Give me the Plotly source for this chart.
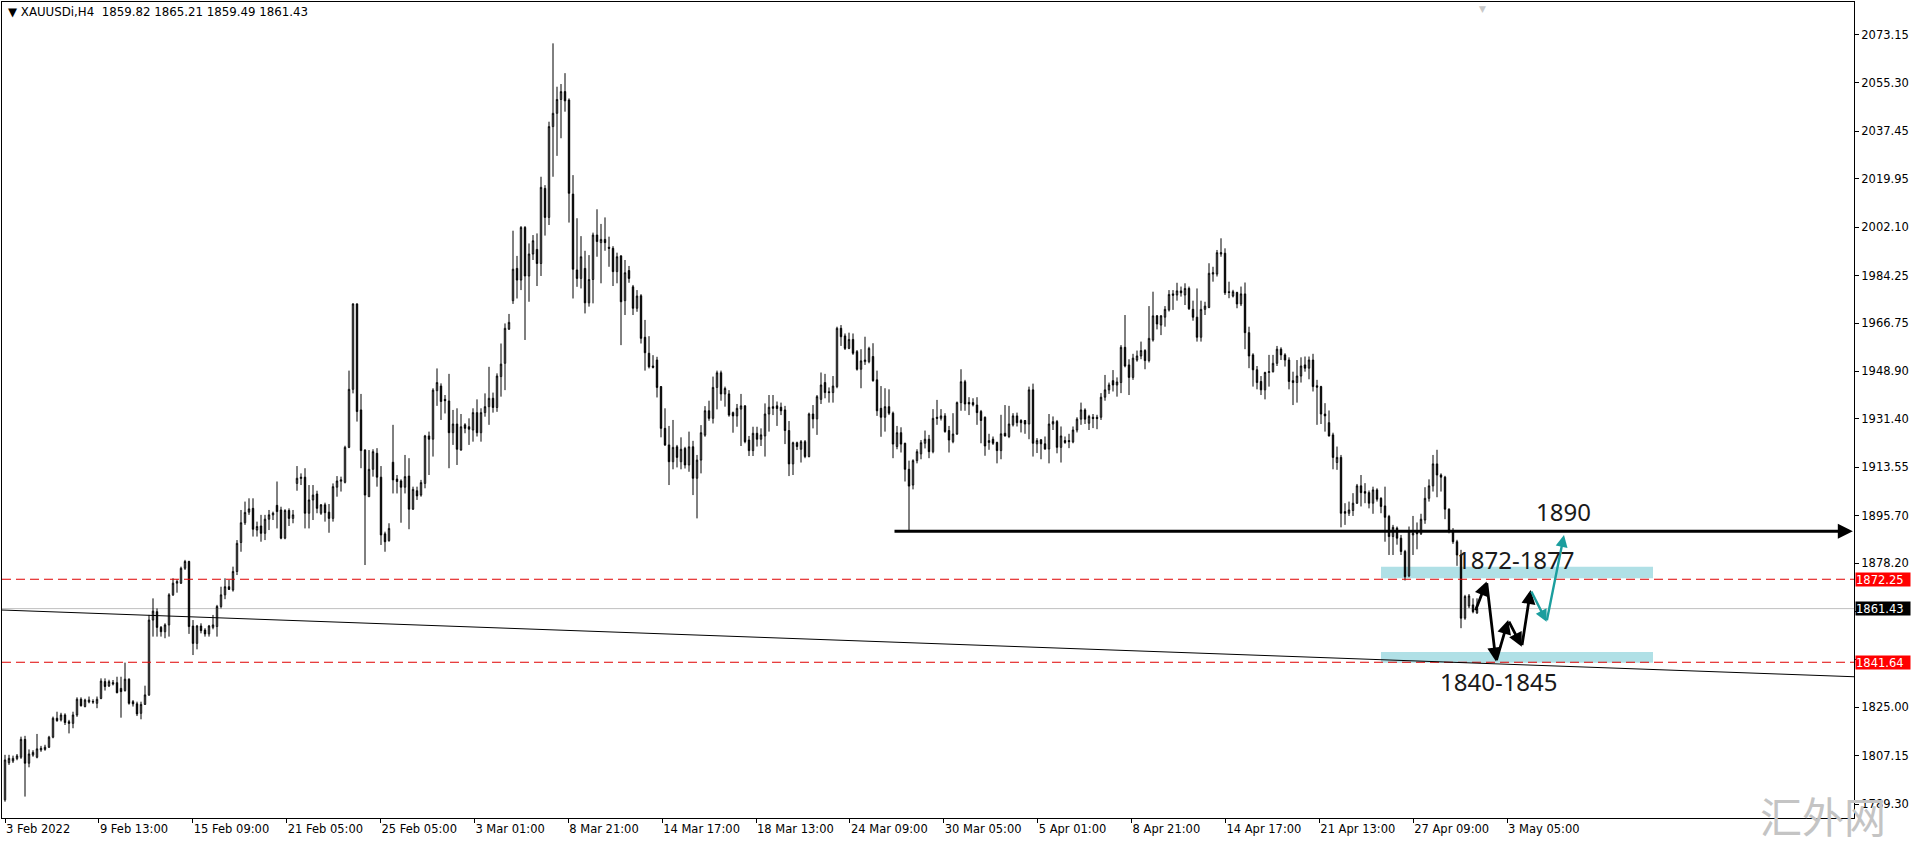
import plotly.graph_objects as go

# ---------------- data (XAUUSDi, H4) ----------------
open_ = [
    1790.9, 1804.6, 1805.2, 1806.1, 1806.6, 1813.2, 1804.4, 1807.4, 1806.6, 1809.3,
    1809.5, 1810.3, 1814.0, 1821.0, 1820.4, 1822.2, 1819.7, 1819.1, 1822.2, 1828.0,
    1825.3, 1827.0, 1827.2, 1826.5, 1828.3, 1834.5, 1832.9, 1833.6, 1834.1, 1832.0,
    1831.2, 1835.4, 1827.1, 1826.3, 1822.8, 1826.1, 1829.6, 1857.2, 1860.3, 1854.5,
    1852.9, 1855.4, 1866.5, 1870.8, 1870.8, 1876.3, 1878.8, 1855.0, 1848.6, 1855.0,
    1853.5, 1852.1, 1854.5, 1854.8, 1862.2, 1866.5, 1869.5, 1868.3, 1875.1, 1885.8,
    1893.1, 1897.0, 1898.4, 1890.4, 1891.9, 1889.2, 1894.4, 1896.0, 1899.5, 1897.8,
    1887.4, 1897.6, 1894.7, 1907.6, 1909.4, 1909.9, 1896.6, 1901.5, 1903.7, 1896.6,
    1899.7, 1897.0, 1894.7, 1906.2, 1908.4, 1908.0, 1920.9, 1942.3, 1973.8, 1934.7,
    1919.9, 1902.7, 1912.8, 1918.7, 1909.9, 1889.0, 1886.5, 1915.4, 1909.2, 1908.5,
    1906.2, 1910.3, 1898.1, 1904.9, 1903.3, 1907.6, 1925.1, 1923.9, 1941.8, 1943.5,
    1938.6, 1938.0, 1926.3, 1929.5, 1919.9, 1929.2, 1928.5, 1927.3, 1933.7, 1926.3,
    1933.7, 1935.9, 1939.0, 1935.6, 1947.0, 1951.9, 1964.5, 1975.0, 1986.9, 1982.6,
    2002.0, 1984.1, 1992.2, 1993.9, 1988.7, 2016.4, 2005.7, 2039.2, 2044.1, 2049.2,
    2052.1, 2049.0, 2014.3, 1986.3, 1983.2, 1986.9, 1974.2, 1982.8, 1999.2, 1996.4,
    1997.6, 1994.7, 1994.3, 1985.7, 1991.5, 1975.0, 1986.1, 1980.1, 1972.2, 1976.8,
    1961.5, 1955.6, 1950.9, 1953.1, 1943.3, 1927.9, 1921.8, 1915.6, 1921.1, 1915.6,
    1920.5, 1914.4, 1921.1, 1909.5, 1916.2, 1925.4, 1934.4, 1931.6, 1943.0, 1948.4,
    1940.6, 1940.6, 1933.7, 1932.5, 1935.0, 1936.2, 1923.6, 1919.7, 1926.1, 1923.9,
    1925.1, 1933.2, 1935.9, 1936.2, 1935.7, 1934.7, 1927.1, 1914.8, 1922.6, 1920.2,
    1923.0, 1917.5, 1933.2, 1931.4, 1938.6, 1944.8, 1941.4, 1941.1, 1943.3, 1964.8,
    1962.0, 1957.4, 1960.7, 1956.2, 1949.7, 1952.5, 1952.5, 1954.4, 1945.8, 1935.3,
    1932.0, 1935.9, 1933.5, 1921.2, 1926.3, 1922.4, 1912.8, 1907.0, 1916.0, 1918.5,
    1922.4, 1923.9, 1919.3, 1932.0, 1931.6, 1932.5, 1927.1, 1923.0, 1925.8, 1937.4,
    1945.1, 1937.5, 1937.4, 1936.5, 1934.1, 1932.0, 1922.7, 1923.9, 1922.7, 1919.7,
    1926.1, 1924.9, 1929.2, 1932.5, 1930.8, 1930.8, 1929.5, 1942.1, 1922.2, 1923.7,
    1922.2, 1920.3, 1929.5, 1930.4, 1920.9, 1923.4, 1923.4, 1922.9, 1927.3, 1931.3,
    1934.7, 1929.8, 1932.0, 1932.0, 1932.0, 1939.4, 1942.1, 1945.5, 1943.9, 1944.8,
    1957.8, 1951.3, 1946.7, 1953.1, 1954.6, 1956.6, 1952.9, 1960.5, 1969.4, 1966.0,
    1968.9, 1971.6, 1977.5, 1977.1, 1978.6, 1977.1, 1979.5, 1971.8, 1968.9, 1961.5,
    1971.8, 1972.5, 1984.8, 1984.8, 1992.2, 1992.5, 1978.3, 1976.7, 1978.0, 1973.8,
    1977.5, 1963.2, 1955.0, 1949.5, 1945.2, 1942.1, 1948.5, 1948.8, 1951.9, 1957.1,
    1955.0, 1953.1, 1945.5, 1944.8, 1947.2, 1951.3, 1950.1, 1953.1, 1943.6, 1943.3,
    1933.2, 1930.0, 1925.5, 1915.3, 1917.2, 1897.2, 1896.6, 1897.6, 1900.3, 1906.7,
    1904.6, 1904.2, 1900.3, 1905.2, 1902.1, 1899.3, 1895.4, 1888.0, 1891.1, 1887.4,
    1882.5, 1873.5, 1888.6, 1890.2, 1889.0, 1894.1, 1902.1, 1906.7, 1914.8, 1910.7,
    1909.9, 1898.1, 1890.2, 1886.1, 1881.2, 1857.9, 1862.4, 1862.8, 1859.82,
]
high = [
    1807.5, 1807.5, 1807.2, 1807.8, 1814.2, 1814.5, 1809.5, 1809.2, 1815.2, 1810.8,
    1811.2, 1814.5, 1821.6, 1823.4, 1823.0, 1822.8, 1820.4, 1823.4, 1828.7, 1828.7,
    1828.2, 1829.0, 1828.0, 1829.0, 1835.7, 1835.7, 1835.2, 1835.1, 1836.3, 1836.3,
    1841.5, 1835.7, 1827.7, 1827.1, 1827.1, 1833.0, 1859.1, 1865.2, 1861.5, 1855.0,
    1856.0, 1867.1, 1872.6, 1872.2, 1876.9, 1879.4, 1879.1, 1857.2, 1855.4, 1856.0,
    1854.2, 1855.4, 1859.1, 1862.8, 1869.5, 1872.6, 1872.0, 1876.9, 1886.7, 1897.8,
    1900.9, 1902.1, 1902.1, 1893.5, 1896.0, 1896.0, 1897.8, 1897.2, 1908.3, 1899.0,
    1898.1, 1898.4, 1897.8, 1914.0, 1911.3, 1913.2, 1907.0, 1907.0, 1904.9, 1900.0,
    1900.5, 1900.0, 1907.6, 1910.3, 1910.1, 1921.5, 1949.2, 1974.0, 1974.0, 1940.6,
    1920.2, 1919.9, 1920.2, 1920.6, 1914.0, 1889.8, 1892.9, 1929.2, 1910.7, 1909.1,
    1918.1, 1916.9, 1906.4, 1906.4, 1908.9, 1925.5, 1926.7, 1942.7, 1950.0, 1944.5,
    1940.2, 1948.0, 1934.7, 1935.3, 1933.2, 1929.8, 1931.6, 1935.3, 1938.6, 1935.3,
    1940.8, 1950.6, 1941.1, 1948.2, 1959.2, 1966.6, 1970.1, 2000.8, 1991.5, 2002.5,
    2002.5, 1996.1, 1999.2, 1999.8, 2020.7, 2017.6, 2041.0, 2069.9, 2053.9, 2054.9,
    2058.9, 2049.6, 2021.3, 2005.4, 1998.8, 1993.4, 1991.8, 2000.1, 2008.7, 2003.3,
    2005.7, 1998.6, 1995.1, 1992.7, 1991.8, 1990.0, 1987.8, 1980.8, 1978.9, 1977.4,
    1967.9, 1961.9, 1954.9, 1954.3, 1943.5, 1935.3, 1928.8, 1931.0, 1921.8, 1924.6,
    1921.1, 1926.7, 1923.3, 1918.1, 1929.1, 1936.1, 1938.1, 1947.0, 1949.2, 1949.2,
    1943.3, 1942.0, 1934.1, 1936.9, 1940.6, 1936.4, 1925.1, 1928.5, 1928.5, 1927.9,
    1937.1, 1940.2, 1940.2, 1937.8, 1937.4, 1936.2, 1930.6, 1923.0, 1923.0, 1923.6,
    1923.6, 1933.7, 1936.5, 1940.2, 1948.5, 1948.0, 1943.0, 1947.2, 1965.4, 1966.0,
    1962.9, 1963.2, 1962.9, 1956.8, 1957.1, 1961.7, 1958.0, 1959.3, 1949.2, 1943.5,
    1942.7, 1942.3, 1934.1, 1928.8, 1928.3, 1922.6, 1916.0, 1916.5, 1920.2, 1923.6,
    1927.1, 1925.5, 1935.0, 1938.4, 1935.0, 1933.5, 1928.8, 1933.5, 1937.8, 1949.7,
    1945.8, 1939.4, 1939.0, 1939.4, 1934.7, 1932.3, 1925.9, 1924.9, 1923.0, 1932.9,
    1936.5, 1936.2, 1933.5, 1933.7, 1931.3, 1931.0, 1943.3, 1944.4, 1924.3, 1923.9,
    1924.9, 1933.2, 1932.3, 1931.0, 1928.6, 1924.9, 1925.9, 1928.6, 1932.0, 1937.4,
    1935.3, 1932.9, 1933.2, 1932.9, 1940.9, 1947.6, 1944.8, 1949.4, 1946.7, 1958.6,
    1969.7, 1953.4, 1955.4, 1956.6, 1959.9, 1957.1, 1973.0, 1978.3, 1969.7, 1969.7,
    1973.0, 1978.9, 1978.9, 1981.6, 1980.2, 1981.4, 1980.2, 1975.0, 1979.5, 1975.0,
    1974.6, 1988.8, 1987.5, 1993.7, 1998.0, 1994.3, 1982.0, 1979.0, 1978.3, 1980.2,
    1981.7, 1965.4, 1955.6, 1950.9, 1947.2, 1948.8, 1955.0, 1955.0, 1958.3, 1957.8,
    1955.6, 1954.1, 1948.8, 1953.1, 1954.1, 1954.4, 1954.4, 1955.4, 1945.8, 1943.6,
    1937.2, 1934.5, 1926.3, 1921.2, 1918.1, 1900.3, 1900.9, 1904.0, 1907.4, 1910.7,
    1907.7, 1905.0, 1906.4, 1905.8, 1902.5, 1906.4, 1896.0, 1892.3, 1891.7, 1888.6,
    1883.1, 1891.7, 1895.6, 1893.2, 1896.4, 1906.2, 1909.1, 1918.1, 1920.0, 1911.3,
    1910.4, 1898.4, 1891.1, 1886.8, 1883.1, 1866.5, 1866.8, 1865.2, 1865.21,
]
low = [
    1790.2, 1803.8, 1804.5, 1805.5, 1806.0, 1792.1, 1802.9, 1806.8, 1806.2, 1808.6,
    1809.0, 1810.0, 1813.6, 1819.7, 1819.8, 1818.5, 1815.4, 1817.3, 1821.5, 1825.3,
    1825.0, 1826.5, 1826.3, 1824.7, 1828.0, 1831.2, 1832.5, 1833.1, 1830.2, 1821.2,
    1830.8, 1826.0, 1825.3, 1821.8, 1820.6, 1825.9, 1829.2, 1851.1, 1851.1, 1851.1,
    1850.5, 1851.1, 1866.1, 1867.3, 1870.5, 1875.7, 1852.1, 1844.3, 1846.4, 1852.3,
    1851.1, 1851.1, 1853.8, 1851.1, 1861.5, 1864.9, 1868.3, 1867.7, 1873.8, 1882.4,
    1892.3, 1896.0, 1888.0, 1888.0, 1886.1, 1886.7, 1890.4, 1894.1, 1891.0, 1887.0,
    1887.0, 1891.9, 1892.9, 1904.9, 1907.0, 1891.0, 1891.0, 1894.1, 1896.6, 1896.0,
    1893.5, 1889.4, 1893.5, 1902.7, 1904.6, 1907.6, 1920.6, 1940.8, 1930.4, 1913.2,
    1877.5, 1902.7, 1910.1, 1906.4, 1884.9, 1882.4, 1886.1, 1903.9, 1903.9, 1893.1,
    1903.9, 1890.7, 1897.8, 1901.5, 1902.7, 1905.8, 1910.7, 1917.5, 1936.2, 1931.0,
    1933.4, 1913.2, 1921.8, 1914.4, 1919.7, 1926.1, 1921.8, 1923.0, 1924.9, 1923.0,
    1932.2, 1929.2, 1933.7, 1934.0, 1939.6, 1942.0, 1964.2, 1973.8, 1975.8, 1978.9,
    1960.5, 1974.6, 1990.0, 1980.4, 1984.1, 1999.0, 2002.9, 2020.7, 2028.4, 2034.9,
    2044.7, 2003.8, 1975.8, 1980.1, 1979.5, 1970.3, 1972.8, 1974.0, 1991.2, 1981.4,
    1993.4, 1987.5, 1980.4, 1981.4, 1958.6, 1969.7, 1981.6, 1969.7, 1970.9, 1959.2,
    1949.2, 1950.0, 1950.0, 1939.3, 1924.6, 1921.4, 1907.0, 1912.8, 1913.5, 1912.8,
    1913.1, 1911.9, 1903.3, 1894.7, 1911.3, 1924.8, 1930.7, 1929.7, 1934.9, 1938.1,
    1935.9, 1932.2, 1926.3, 1928.5, 1921.4, 1922.4, 1917.7, 1917.7, 1921.2, 1921.4,
    1917.5, 1926.7, 1932.8, 1928.8, 1932.8, 1922.1, 1910.3, 1910.7, 1919.9, 1915.3,
    1916.9, 1917.2, 1927.9, 1925.5, 1936.9, 1939.0, 1937.4, 1937.4, 1942.7, 1958.3,
    1956.8, 1957.1, 1955.0, 1949.2, 1942.7, 1951.3, 1951.9, 1945.1, 1932.5, 1924.8,
    1926.7, 1932.8, 1916.9, 1920.2, 1919.0, 1908.3, 1890.4, 1905.4, 1915.0, 1916.5,
    1920.5, 1916.9, 1918.7, 1929.2, 1930.8, 1926.3, 1919.0, 1922.4, 1925.5, 1934.4,
    1934.4, 1932.8, 1936.0, 1929.2, 1922.4, 1917.8, 1920.0, 1921.8, 1915.0, 1916.5,
    1924.9, 1924.3, 1928.6, 1928.6, 1926.4, 1925.9, 1923.9, 1917.5, 1918.8, 1916.5,
    1920.0, 1915.0, 1927.3, 1918.7, 1915.3, 1922.2, 1920.6, 1922.4, 1926.4, 1929.2,
    1929.5, 1927.3, 1928.0, 1927.6, 1931.0, 1938.1, 1940.6, 1941.5, 1939.6, 1940.9,
    1950.4, 1940.2, 1945.8, 1952.5, 1953.4, 1949.7, 1952.2, 1959.9, 1964.4, 1962.3,
    1965.4, 1971.0, 1971.6, 1975.0, 1976.5, 1973.4, 1971.6, 1967.6, 1959.9, 1959.9,
    1969.7, 1972.2, 1982.0, 1983.9, 1991.2, 1977.1, 1975.9, 1976.2, 1972.2, 1973.0,
    1957.1, 1950.1, 1943.3, 1942.3, 1940.2, 1938.6, 1943.3, 1948.5, 1950.9, 1953.1,
    1950.7, 1942.3, 1936.5, 1937.4, 1944.8, 1948.8, 1946.0, 1941.5, 1929.2, 1929.5,
    1926.7, 1924.9, 1912.8, 1912.6, 1891.4, 1892.3, 1895.6, 1895.6, 1900.0, 1899.1,
    1900.3, 1898.4, 1896.4, 1900.9, 1896.6, 1886.1, 1881.2, 1881.2, 1885.0, 1881.2,
    1871.8, 1873.0, 1881.2, 1883.3, 1888.6, 1892.7, 1900.9, 1904.6, 1902.5, 1904.6,
    1894.4, 1889.2, 1885.3, 1877.2, 1854.2, 1857.3, 1861.6, 1859.7, 1859.49,
]
close = [
    1805.6, 1806.2, 1806.2, 1807.1, 1813.2, 1804.4, 1807.8, 1808.4, 1809.7, 1809.9,
    1810.3, 1814.0, 1821.0, 1820.1, 1822.2, 1819.4, 1819.1, 1822.2, 1828.0, 1825.6,
    1827.7, 1827.7, 1827.0, 1828.0, 1834.7, 1832.7, 1834.5, 1834.1, 1830.4, 1830.8,
    1835.4, 1826.5, 1826.3, 1822.6, 1826.1, 1829.6, 1857.2, 1860.5, 1854.5, 1852.9,
    1855.4, 1866.5, 1870.8, 1871.4, 1876.3, 1878.8, 1854.8, 1848.6, 1855.0, 1853.3,
    1852.1, 1855.0, 1855.4, 1862.2, 1866.5, 1869.5, 1868.5, 1875.1, 1885.5, 1893.1,
    1896.9, 1898.2, 1890.7, 1891.7, 1889.2, 1894.4, 1896.0, 1896.6, 1897.2, 1887.4,
    1897.6, 1894.7, 1896.0, 1909.5, 1909.9, 1896.6, 1901.5, 1903.3, 1898.4, 1899.7,
    1896.8, 1894.7, 1906.4, 1908.5, 1908.9, 1920.9, 1942.3, 1973.8, 1934.1, 1919.7,
    1903.3, 1912.8, 1919.3, 1909.9, 1888.6, 1886.1, 1891.0, 1908.9, 1908.3, 1906.2,
    1910.1, 1898.1, 1905.4, 1903.0, 1907.9, 1925.1, 1923.9, 1942.0, 1944.8, 1937.8,
    1938.1, 1926.3, 1929.5, 1920.2, 1928.5, 1927.9, 1927.6, 1933.7, 1926.3, 1933.7,
    1935.9, 1939.0, 1935.6, 1947.2, 1951.6, 1964.8, 1967.0, 1986.6, 1982.6, 2002.0,
    1984.1, 1992.2, 1997.1, 1988.7, 2016.8, 2005.7, 2039.2, 2044.1, 2049.2, 2052.1,
    2048.7, 2014.6, 1986.6, 1983.2, 1991.2, 1974.2, 1982.8, 1999.2, 1996.8, 1997.6,
    1996.4, 1994.3, 1985.7, 1991.2, 1974.6, 1985.3, 1983.2, 1972.2, 1976.7, 1961.1,
    1955.8, 1950.6, 1950.4, 1943.0, 1927.9, 1921.8, 1915.6, 1920.9, 1917.2, 1920.2,
    1914.4, 1921.1, 1909.5, 1916.2, 1926.3, 1934.4, 1931.6, 1943.0, 1948.4, 1940.6,
    1942.6, 1932.8, 1932.5, 1935.3, 1936.2, 1923.0, 1919.7, 1926.1, 1923.9, 1925.5,
    1933.2, 1935.7, 1935.3, 1935.2, 1934.4, 1927.1, 1914.8, 1922.6, 1921.2, 1923.0,
    1917.5, 1933.2, 1931.4, 1939.6, 1943.9, 1941.1, 1941.1, 1943.5, 1964.8, 1961.7,
    1957.4, 1960.7, 1955.6, 1949.7, 1952.8, 1953.1, 1957.4, 1945.5, 1934.4, 1932.0,
    1935.9, 1933.5, 1922.1, 1926.3, 1922.1, 1912.8, 1906.6, 1916.0, 1919.3, 1922.6,
    1923.9, 1919.3, 1931.6, 1931.6, 1932.5, 1926.7, 1923.6, 1925.8, 1937.4, 1945.1,
    1936.9, 1936.9, 1936.6, 1933.7, 1930.8, 1921.4, 1923.4, 1922.4, 1919.7, 1925.9,
    1925.1, 1929.5, 1932.5, 1930.0, 1930.0, 1929.5, 1942.1, 1922.4, 1923.4, 1922.2,
    1920.3, 1929.5, 1930.4, 1920.9, 1925.1, 1922.7, 1923.0, 1927.3, 1931.3, 1934.7,
    1931.3, 1932.3, 1931.5, 1931.5, 1939.4, 1942.1, 1943.9, 1943.9, 1945.0, 1957.8,
    1950.9, 1946.7, 1953.8, 1954.6, 1956.6, 1952.9, 1961.1, 1969.4, 1966.4, 1969.4,
    1971.8, 1977.3, 1977.0, 1978.6, 1977.9, 1979.5, 1972.0, 1968.9, 1961.5, 1971.8,
    1973.0, 1985.1, 1985.3, 1992.7, 1992.7, 1977.9, 1978.0, 1978.3, 1973.8, 1977.5,
    1963.2, 1954.6, 1949.5, 1944.8, 1942.1, 1948.5, 1948.8, 1951.9, 1957.1, 1955.0,
    1953.1, 1945.2, 1944.8, 1947.2, 1950.9, 1950.1, 1953.1, 1943.3, 1943.1, 1933.2,
    1932.5, 1925.1, 1917.2, 1917.2, 1896.6, 1896.6, 1897.8, 1900.3, 1906.7, 1904.2,
    1904.0, 1900.3, 1905.2, 1901.8, 1899.1, 1895.1, 1888.0, 1891.4, 1887.4, 1882.5,
    1873.2, 1890.2, 1889.2, 1889.0, 1894.4, 1902.1, 1906.7, 1914.8, 1910.7, 1909.9,
    1898.1, 1890.2, 1886.1, 1881.2, 1857.9, 1865.9, 1866.1, 1860.3, 1861.43,
]

time_labels = [
    "3 Feb 2022", "9 Feb 13:00", "15 Feb 09:00", "21 Feb 05:00", "25 Feb 05:00",
    "3 Mar 01:00", "8 Mar 21:00", "14 Mar 17:00", "18 Mar 13:00", "24 Mar 09:00",
    "30 Mar 05:00", "5 Apr 01:00", "8 Apr 21:00", "14 Apr 17:00", "21 Apr 13:00",
    "27 Apr 09:00", "3 May 05:00",
]
price_ticks = [2073.15, 2055.30, 2037.45, 2019.95, 2002.10, 1984.25, 1966.75,
               1948.90, 1931.40, 1913.55, 1895.70, 1878.20, 1860.35, 1842.50,
               1825.00, 1807.15, 1789.30]

# levels / drawings
current_price = 1861.43
resist_level = 1872.25
support_level = 1841.64
target_level = 1890.0
upper_zone = [1872.6, 1876.9]
lower_zone = [1841.5, 1845.4]
trend_prices = [1860.9, 1836.3]
path_black_x = [367.5, 370.4, 372.75, 375.8, 379.2, 381.4]
path_black_y = [1860.3, 1871.4, 1841.9, 1857.2, 1847.4, 1868.3]
path_teal_x = [381.4, 385.4, 389.75]
path_teal_y = [1868.3, 1856.6, 1888.6]

# ---------------- figure ----------------
W, H = 1920, 845
ML, MR, MT, MB = 2, 66, 2, 27
XMIN, XMAX = -0.75, 462.25
YMIN, YMAX = 1784.2, 2085.15
LABEL_STEP = 23.47          # bars between time-scale labels
ZONE_X = [344, 412]
TARGET_START = 222
FONT = "DejaVu Sans"
PW, PH = W - ML - MR, H - MT - MB

bars = list(range(len(open_)))
# price-scale labels hidden behind the coloured price tags
covered = {1860.35, 1842.50}
tick_text = ["" if v in covered else f"{v:.2f}" for v in price_ticks]

fig = go.Figure()
fig.add_trace(go.Candlestick(
    x=bars, open=open_, high=high, low=low, close=close,
    increasing=dict(fillcolor="white", line=dict(color="black", width=1)),
    decreasing=dict(fillcolor="black", line=dict(color="black", width=1)),
    whiskerwidth=0, hoverinfo="skip", showlegend=False,
))

shapes = []
for z in (upper_zone, lower_zone):
    shapes.append(dict(type="rect", xref="x", yref="y", x0=ZONE_X[0], x1=ZONE_X[1],
                       y0=z[0], y1=z[1], fillcolor="#B0E0E6", line=dict(width=0),
                       layer="below"))
shapes.append(dict(type="line", xref="paper", yref="y", x0=0, x1=1,
                   y0=current_price, y1=current_price,
                   line=dict(color="#C0C0C0", width=1), layer="below"))
for lv in (resist_level, support_level):
    shapes.append(dict(type="line", xref="paper", yref="y", x0=0, x1=1, y0=lv, y1=lv,
                       line=dict(color="#E00000", width=1, dash="9px,5px")))
shapes.append(dict(type="line", xref="x", yref="y", x0=XMIN, x1=XMAX,
                   y0=trend_prices[0], y1=trend_prices[1],
                   line=dict(color="black", width=1)))

annotations = []


def arrow(x0, y0, x1, y1, color, width):
    return dict(x=x1, y=y1, ax=x0, ay=y0, xref="x", yref="y", axref="x", ayref="y",
                showarrow=True, arrowhead=2, arrowsize=1, arrowwidth=width,
                arrowcolor=color, text="", standoff=0, startstandoff=0)


annotations.append(arrow(TARGET_START, target_level, XMAX - 0.3, target_level, "black", 3))
for i in range(len(path_black_x) - 1):
    annotations.append(arrow(path_black_x[i], path_black_y[i],
                             path_black_x[i + 1], path_black_y[i + 1], "black", 2.8))
for i in range(len(path_teal_x) - 1):
    annotations.append(arrow(path_teal_x[i], path_teal_y[i],
                             path_teal_x[i + 1], path_teal_y[i + 1], "#1B9E9E", 2.4))

big = dict(family="Noto Sans", size=24, color="#1a1a1a")
annotations += [
    dict(x=389.5, y=1897.3, xref="x", yref="y", text="1890", showarrow=False, font=big),
    dict(x=377.75, y=1879.7, xref="x", yref="y", text="1872-1877", showarrow=False, font=big),
    dict(x=373.6, y=1834.6, xref="x", yref="y", text="1840-1845", showarrow=False, font=big),
]

for val, bg in ((resist_level, "#FF0000"), (current_price, "#000000"), (support_level, "#FF0000")):
    annotations.append(dict(x=1, y=val, xref="paper", yref="y", xanchor="left", yanchor="middle",
                            text=f"{val:.2f}", showarrow=False, bgcolor=bg, width=54, height=13,
                            align="left", borderpad=0, xshift=1,
                            font=dict(family=FONT, size=11.5, color="white")))

annotations.append(dict(x=(6 - ML) / PW, y=1 - (12 - MT) / PH,
                        xref="paper", yref="paper", xanchor="left", yanchor="middle",
                        text="▼\u00a0XAUUSDi,H4\u00a0\u00a0" + " ".join(
                            f"{v:.2f}" for v in (open_[-1], high[-1], low[-1], close[-1])),
                        showarrow=False, font=dict(family=FONT, size=11.8, color="black")))
annotations.append(dict(x=(1482 - ML) / PW, y=1, xref="paper", yref="paper",
                        xanchor="center", yanchor="top", text="▼", showarrow=False,
                        font=dict(family=FONT, size=9, color="#C8C8C8")))
annotations.append(dict(x=(1823 - ML) / PW, y=1 - (814 - MT) / PH,
                        xref="paper", yref="paper", xanchor="center", yanchor="middle",
                        text="汇外网", showarrow=False,
                        font=dict(family="Noto Sans CJK SC", size=42, color="#C4C4C4")))

fig.update_layout(
    template="none",
    width=W, height=H,
    margin=dict(l=ML, r=MR, t=MT, b=MB, autoexpand=False),
    paper_bgcolor="white", plot_bgcolor="white",
    showlegend=False, boxgap=0.5,
    shapes=shapes, annotations=annotations,
    xaxis=dict(range=[XMIN, XMAX], rangeslider=dict(visible=False), automargin=False,
               tickvals=[k * LABEL_STEP for k in range(len(time_labels))],
               ticktext=time_labels, ticks="outside", ticklen=4, tickcolor="black",
               ticklabelposition="outside right",
               showline=True, linecolor="black", linewidth=1, mirror=True,
               showgrid=False, zeroline=False,
               tickfont=dict(family=FONT, size=11.5, color="black")),
    yaxis=dict(range=[YMIN, YMAX], side="right", automargin=False,
               tickvals=price_ticks, ticktext=tick_text,
               ticks="outside", ticklen=4, tickcolor="black",
               showline=True, linecolor="black", linewidth=1, mirror=True,
               showgrid=False, zeroline=False,
               tickfont=dict(family=FONT, size=11.5, color="black")),
)

# the page's default 8px body margin would shift the whole chart; remove it
fig.write_html("out.html", config={"displayModeBar": False},
               post_script="document.body.style.margin='0px';")
